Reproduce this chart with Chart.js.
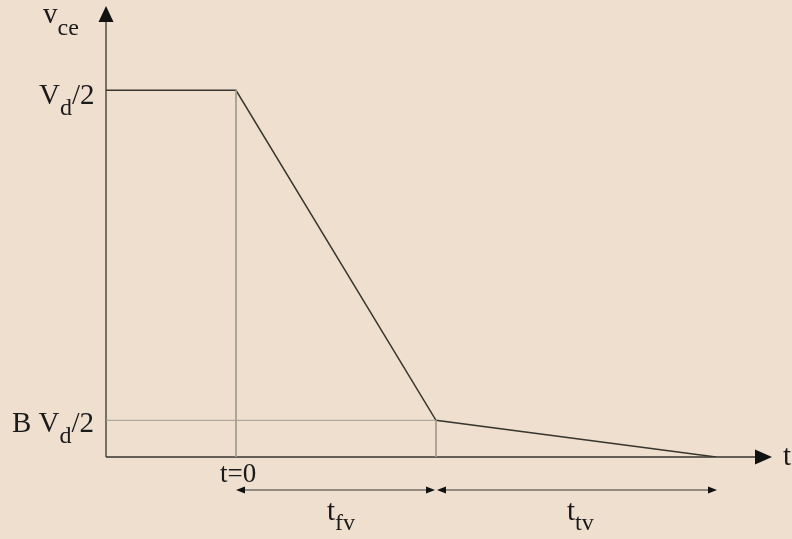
<!DOCTYPE html>
<html>
<head>
<meta charset="utf-8">
<script src="https://cdn.jsdelivr.net/npm/chart.js@4.4.1/dist/chart.umd.min.js"></script>
<style>
  html, body { margin: 0; padding: 0; background: #efdfcf; }
  #wrap { width: 792px; height: 539px; }
</style>
</head>
<body>
<div id="wrap"><canvas id="vceChart" width="792" height="539"></canvas></div>
<script>
// turn-off voltage waveform: flat, fast fall (t_fv), slow tail (t_tv)
const timePts = [-0.65, 0, 1, 2.4];
const vcePts = [1, 1, 0.1, 0];
// guide lines: t=0 drop and the B*Vd/2 level
const guideT0 = [{ x: 0, y: 1 }, { x: 0, y: 0 }];
const guideB = [{ x: -0.65, y: 0.1 }, { x: 1, y: 0.1 }, { x: 1, y: 0 }];
const xMin = -0.65, xMax = 2.68, yMin = 0, yMax = 1.23;

const ink = '#37362f';
const faint = '#a39d92';
const serif = '"Liberation Serif", "DejaVu Serif", serif';

function label(ctx, x, y, parts) {
  // parts: [text, size, dy]
  let cx = x;
  parts.forEach(([txt, size, dy]) => {
    ctx.font = size + 'px ' + serif;
    ctx.fillText(txt, cx, y + dy);
    cx += ctx.measureText(txt).width;
  });
}

function arrowHead(ctx, tipX, tipY, dir, len, half) {
  // dir: 'up', 'right', 'left'
  ctx.beginPath();
  ctx.moveTo(tipX, tipY);
  if (dir === 'up') {
    ctx.lineTo(tipX - half, tipY + len);
    ctx.lineTo(tipX + half, tipY + len);
  } else if (dir === 'right') {
    ctx.lineTo(tipX - len, tipY - half);
    ctx.lineTo(tipX - len, tipY + half);
  } else {
    ctx.lineTo(tipX + len, tipY - half);
    ctx.lineTo(tipX + len, tipY + half);
  }
  ctx.closePath();
  ctx.fill();
}

const axesPlugin = {
  id: 'axesPlugin',
  beforeDatasetsDraw(chart) {
    const { ctx } = chart;
    const xs = chart.scales.x, ys = chart.scales.y;
    const x0 = xs.getPixelForValue(xMin), y0 = ys.getPixelForValue(0);
    const xEnd = xs.getPixelForValue(xMax), yTop = ys.getPixelForValue(yMax);
    ctx.save();
    ctx.strokeStyle = ink;
    ctx.fillStyle = '#111';
    ctx.lineWidth = 1.3;
    ctx.beginPath();
    ctx.moveTo(x0, y0);
    ctx.lineTo(x0, yTop + 10);
    ctx.moveTo(x0, y0);
    ctx.lineTo(xEnd - 10, y0);
    ctx.stroke();
    arrowHead(ctx, x0, yTop, 'up', 16, 7.5);
    arrowHead(ctx, xEnd, y0, 'right', 17, 7.5);
    ctx.restore();
  },
  afterDraw(chart) {
    const { ctx } = chart;
    const xs = chart.scales.x, ys = chart.scales.y;
    const px0 = xs.getPixelForValue(0);
    const px1 = xs.getPixelForValue(timePts[2]);
    const px2 = xs.getPixelForValue(timePts[3]);
    const y0 = ys.getPixelForValue(0);
    const yHi = ys.getPixelForValue(vcePts[0]);
    const yB = ys.getPixelForValue(vcePts[2]);
    const dimY = y0 + 33;

    ctx.save();
    // dimension arrows for t_fv and t_tv
    ctx.strokeStyle = ink;
    ctx.fillStyle = '#111';
    ctx.lineWidth = 1;
    ctx.beginPath();
    ctx.moveTo(px0 + 4, dimY); ctx.lineTo(px1 - 4, dimY);
    ctx.moveTo(px1 + 4, dimY); ctx.lineTo(px2 - 4, dimY);
    ctx.stroke();
    arrowHead(ctx, px0, dimY, 'left', 9, 3.5);
    arrowHead(ctx, px1 - 1, dimY, 'right', 9, 3.5);
    arrowHead(ctx, px1 + 1, dimY, 'left', 9, 3.5);
    arrowHead(ctx, px2 + 1, dimY, 'right', 9, 3.5);

    // labels
    ctx.fillStyle = '#1a1a1a';
    ctx.textBaseline = 'alphabetic';
    label(ctx, 43, 23, [['v', 29, 0], ['ce', 24, 12]]);
    label(ctx, 39, yHi + 14, [['V', 29, 0], ['d', 24, 11], ['/2', 29, 0]]);
    label(ctx, 12, yB + 12, [['B V', 29, 0], ['d', 24, 11], ['/2', 29, 0]]);
    label(ctx, px0 - 16, y0 + 25, [['t=0', 27, 0]]);
    label(ctx, 783, y0 + 8, [['t', 29, 0]]);
    label(ctx, (px0 + px1) / 2 - 9, dimY + 30, [['t', 29, 0], ['fv', 24, 10]]);
    label(ctx, (px1 + px2) / 2 - 9, dimY + 30, [['t', 29, 0], ['tv', 24, 10]]);
    ctx.restore();
  }
};

new Chart(document.getElementById('vceChart').getContext('2d'), {
  type: 'scatter',
  data: {
    datasets: [
      {
        data: guideT0,
        showLine: true,
        borderColor: faint,
        borderWidth: 1,
        pointRadius: 0
      },
      {
        data: guideB,
        showLine: true,
        borderColor: faint,
        borderWidth: 1,
        pointRadius: 0
      },
      {
        data: timePts.map((t, i) => ({ x: t, y: vcePts[i] })),
        showLine: true,
        borderColor: ink,
        borderWidth: 1.5,
        pointRadius: 0,
        tension: 0
      }
    ]
  },
  options: {
    responsive: false,
    animation: false,
    layout: { padding: { left: 106, right: 20, top: 6, bottom: 82 } },
    plugins: { legend: { display: false }, tooltip: { enabled: false } },
    scales: {
      x: { type: 'linear', min: xMin, max: xMax, display: false },
      y: { type: 'linear', min: yMin, max: yMax, display: false }
    }
  },
  plugins: [axesPlugin]
});
</script>
</body>
</html>
